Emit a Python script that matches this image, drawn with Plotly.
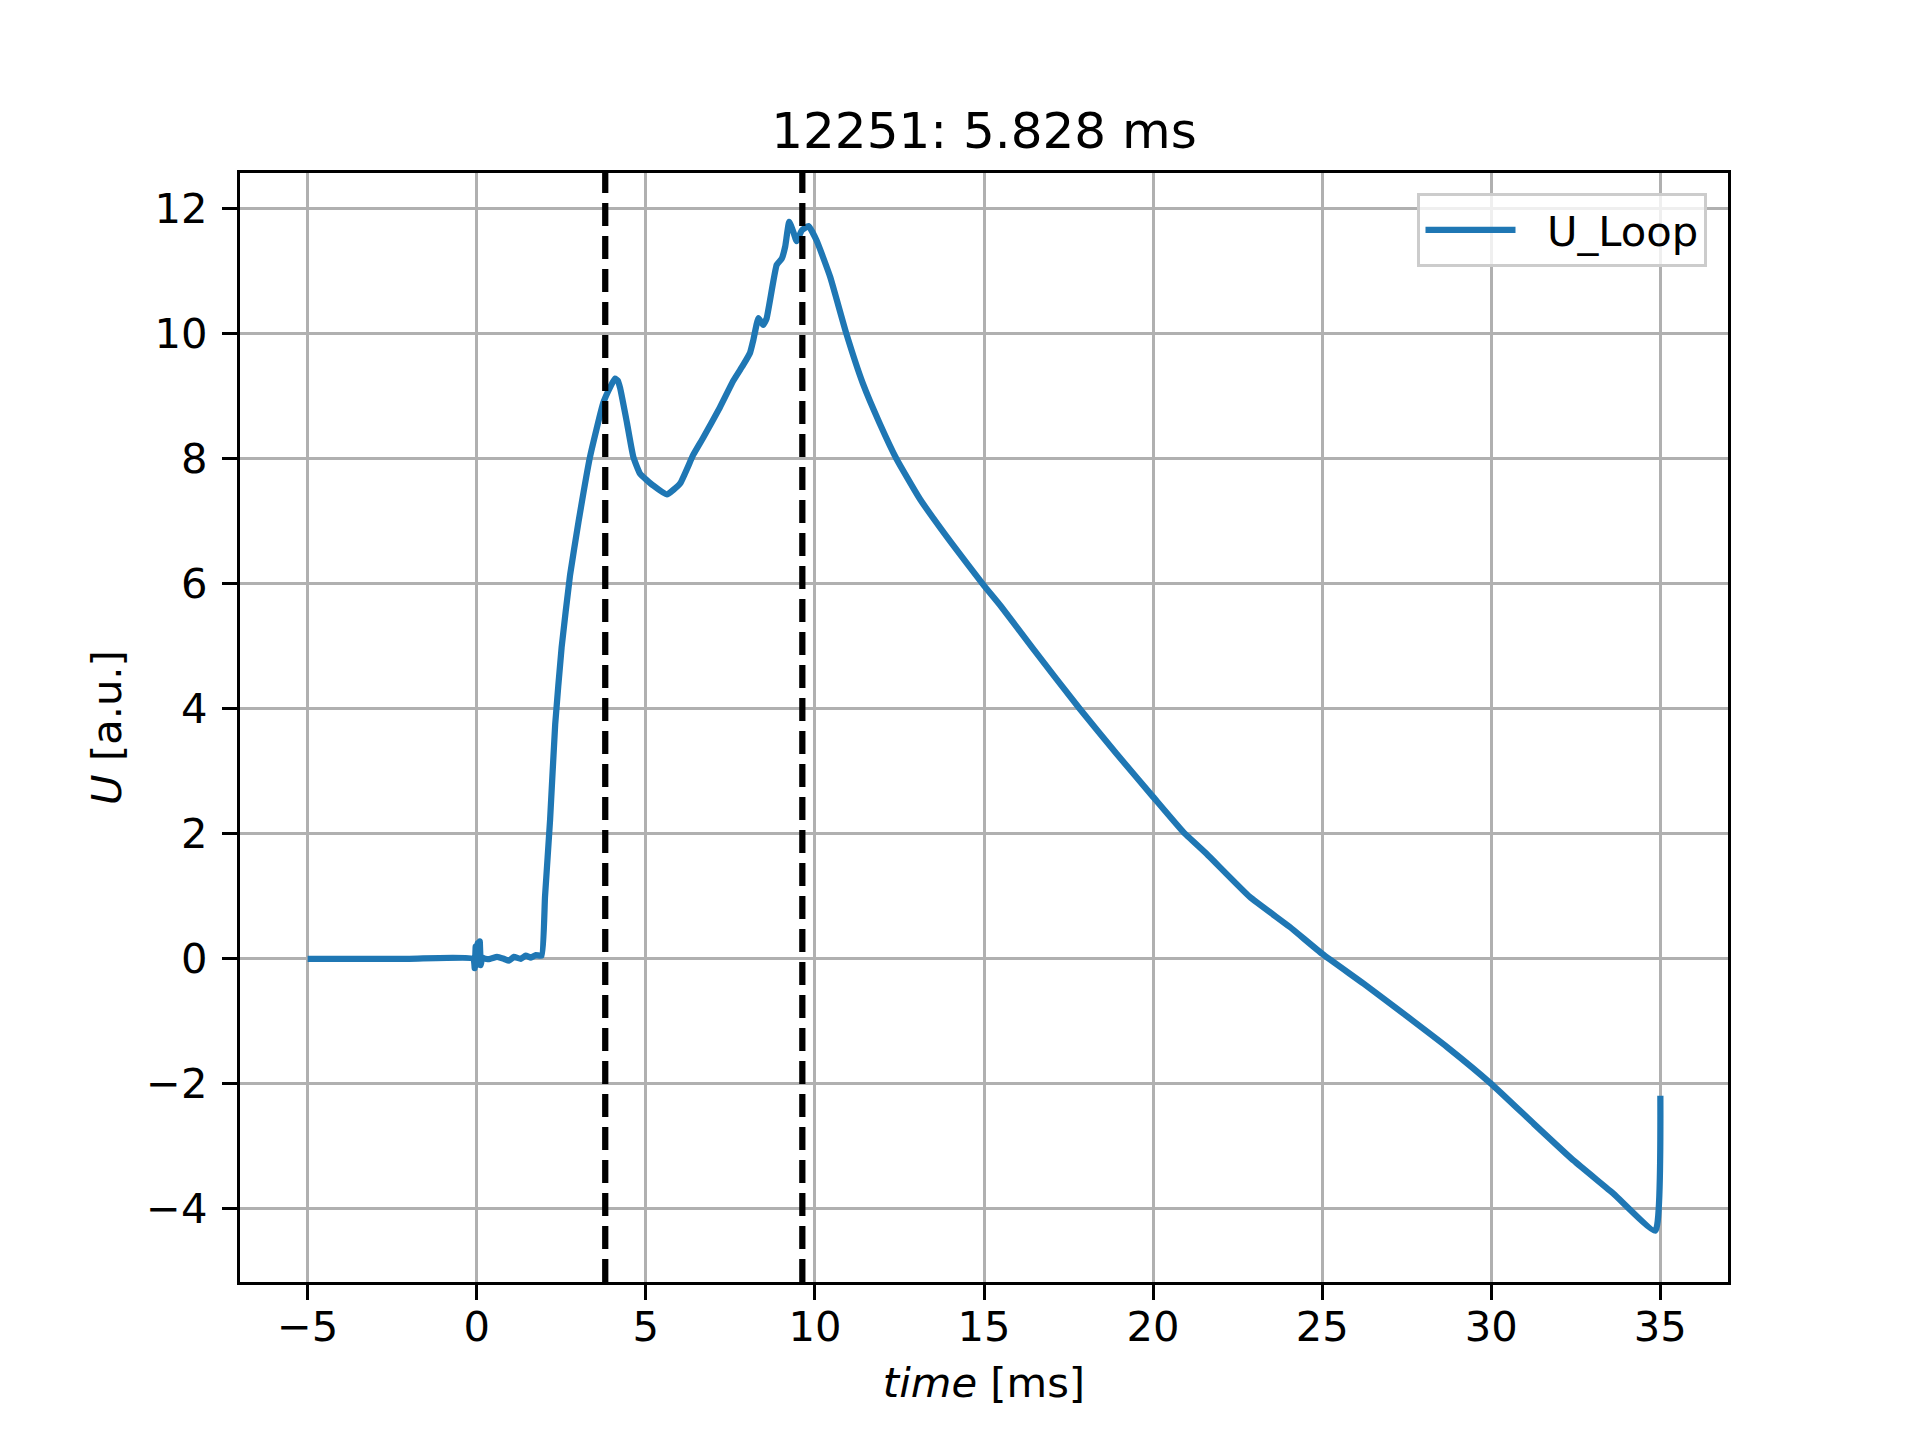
import plotly.graph_objects as go

# values
time_ms = [-5, -2, -0.1, -0.06, -0.03, 0.0, 0.03, 0.06, 0.09, 0.12, 0.16, 0.25,
           0.4, 0.6, 0.8, 0.95, 1.1, 1.3, 1.45, 1.6, 1.75, 1.92, 2.02, 2.17,
           2.32, 2.51, 2.76, 3.01, 3.35, 3.74, 3.95, 4.09, 4.17, 4.24, 4.44,
           4.63, 4.83, 5.22, 5.62, 6.01, 6.40, 6.70, 7.19, 7.59, 7.88, 8.08,
           8.18, 8.33, 8.47, 8.57, 8.87, 9.02, 9.12, 9.24, 9.36, 9.46, 9.61,
           9.81, 10.05, 10.45, 10.93, 11.42, 11.92, 12.41, 13.10, 14.08, 15.0,
           15.5, 16.45, 17.83, 18.92, 20.0, 20.89, 21.58, 22.86, 24.04, 25.0,
           26.23, 27.41, 28.69, 30.0, 31.26, 32.44, 33.62, 34.85, 35.0]
u_loop = [0.0, 0.0, 0.0, -0.15, 0.2, -0.1, 0.25, -0.05, 0.28, -0.1, 0.02, 0.0,
          0.0, 0.03, 0.0, -0.03, 0.03, 0.0, 0.05, 0.02, 0.06, 0.05, 1.0, 2.23,
          3.75, 4.98, 6.14, 6.99, 8.03, 8.89, 9.15, 9.28, 9.25, 9.13, 8.58,
          8.03, 7.76, 7.57, 7.43, 7.60, 8.06, 8.34, 8.82, 9.25, 9.50, 9.69,
          9.90, 10.25, 10.14, 10.24, 11.10, 11.20, 11.39, 11.79, 11.63, 11.48,
          11.65, 11.72, 11.49, 10.91, 10.0, 9.2, 8.56, 8.0, 7.36, 6.62, 5.97,
          5.64, 4.96, 4.0, 3.28, 2.59, 2.03, 1.68, 0.99, 0.51, 0.08,
          -0.40, -0.88, -1.41, -2.0, -2.64, -3.23, -3.76, -4.35, -2.19]
markers_ms = [3.80, 9.628]
shot = 12251
delta_ms = 5.828

font = "DejaVu Sans"

fig = go.Figure()
fig.add_trace(go.Scatter(x=time_ms, y=u_loop, mode="lines", name="&nbsp;&nbsp;U_Loop",
                         line=dict(color="#1f77b4", width=6.25, shape="spline", smoothing=0.4)))

for m in markers_ms:
    fig.add_vline(x=m, line=dict(color="black", width=6.25, dash="23px,10px"))

axis_common = dict(showline=True, linecolor="black", linewidth=3.33, mirror=True,
                   showgrid=True, gridcolor="#b0b0b0", gridwidth=3.33,
                   zeroline=False, ticks="outside", ticklen=15, tickwidth=3.33,
                   tickcolor="black", tickfont=dict(family=font, size=41.7, color="black"))

fig.update_xaxes(range=[-7, 37], tickvals=[-5, 0, 5, 10, 15, 20, 25, 30, 35],
                 ticklabelstandoff=-9,
                 title=dict(text="<i>time</i> [ms]", font=dict(family=font, size=41.7, color="black"),
                            standoff=18),
                 **axis_common)
fig.update_yaxes(range=[-5.17, 12.57], tickvals=[-4, -2, 0, 2, 4, 6, 8, 10, 12],
                 ticklabelstandoff=6,
                 title=dict(text="<i>U</i> [a.u.]", font=dict(family=font, size=41.7, color="black"),
                            standoff=12),
                 **axis_common)

fig.update_layout(
    width=1912, height=1432,
    margin=dict(l=232, r=192, t=165, b=158),
    plot_bgcolor="white", paper_bgcolor="white",
    title=dict(text=f"{shot}: {delta_ms} ms", x=0.5, xref="paper", xanchor="center",
               y=1 - 122.5 / 1432, yanchor="middle",
               font=dict(family=font, size=50, color="black")),
    showlegend=True,
    legend=dict(x=0.986, y=0.982, xanchor="right", yanchor="top",
                bgcolor="rgba(255,255,255,0.8)", bordercolor="#cccccc", borderwidth=3.33,
                font=dict(family=font, size=41.7, color="black"), itemwidth=90),
)

fig.write_html("out.html")
